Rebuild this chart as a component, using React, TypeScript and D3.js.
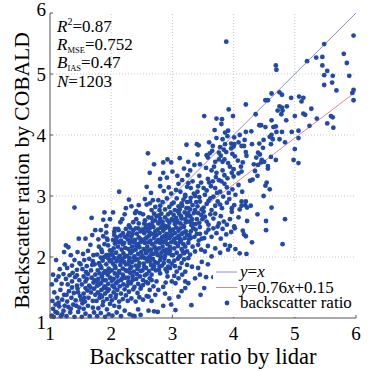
import React from "react";
import * as d3 from "d3";

// ---------- data ----------
const xTicks = [1, 2, 3, 4, 5, 6];
const yTicks = [1, 2, 3, 4, 5, 6];
const stats = { r2: "0.87", rmse: "0.752", bias: "0.47", n: "1203" };
const fitSlope = 0.76;
const fitIntercept = 0.15;

// sparse points, upper / right part
const upperPoints: [number, number][] = [
  [3.88,5.53],[5.96,5.63],[5.48,5.49],[5.80,5.33],[5.85,5.18],[5.20,5.21],[5.35,5.27],[5.45,5.28],[5.45,5.14],[4.69,5.14],[4.70,5.07],[5.53,5.05],[5.48,4.98],[5.62,4.97],[5.89,4.97],[5.61,4.86],[5.48,4.82],[5.68,4.73],[5.96,4.74],[5.94,4.69],[5.96,4.57],
  [4.62,4.68],[4.75,4.70],[4.79,4.66],[4.94,4.61],[5.07,4.63],[5.14,4.61],[5.11,4.55],[4.52,4.57],[4.56,4.57],[4.20,4.50],[4.75,4.47],[4.79,4.45],[4.87,4.47],[4.72,4.40],[4.80,4.40],[4.78,4.34],[5.14,4.35],[5.17,4.33],[5.27,4.43],
  [3.52,4.31],[3.72,4.27],[3.81,4.26],[3.80,4.18],[3.92,4.42],[3.99,4.31],[4.36,4.34],[4.62,4.24],[4.86,4.24],[5.00,4.31],[5.36,4.27],[5.53,4.19],[5.59,4.31],[5.62,4.29],[5.63,4.12],[4.42,4.16],[4.45,4.16],[4.69,4.14],[4.52,4.13],[4.65,4.13],[4.70,4.05],[4.79,4.05],[4.95,4.05],[5.06,4.07],[5.24,4.15],[4.20,4.05],[4.29,4.06],
  [4.62,4.00],[4.59,3.97],[5.06,3.95],[4.17,3.82],[4.30,3.85],[4.42,3.86],[4.49,3.92],[4.61,3.85],[4.64,3.93],[4.75,3.93],[4.84,3.88],[5.00,3.77],[4.20,3.72],[4.21,3.66],[4.48,3.79],[4.40,3.71],[4.43,3.68],[4.37,3.63],[4.61,3.64],[4.46,3.59],[4.50,3.56],[4.45,3.55],[4.40,3.51],[4.33,3.52],[4.56,3.49],[4.56,3.45],[4.69,3.59],[4.98,3.59],[5.06,3.54],
  [4.13,3.40],[4.35,3.41],[4.39,3.33],[4.31,3.27],[4.27,3.25],[4.54,3.22],[4.52,3.17],[4.59,3.11],[4.49,3.00],[4.20,2.91],[4.19,2.85],[4.13,2.84],[4.22,2.81],[4.28,2.84],[4.62,2.81],[4.39,2.70],[4.84,2.62],[4.22,2.59],[4.53,2.59],[4.53,2.44],[4.15,2.43],[4.17,2.37],[4.20,2.34],[4.30,2.24],[4.80,2.21],[4.21,2.05],
];

// middle band, lidar 2.5 – 4.2
const middlePoints: [number, number][] = [
  [2.61,1.12],[2.70,1.11],[2.52,1.30],[2.58,1.36],[2.61,1.35],[2.66,1.28],[2.72,1.38],[2.63,1.46],[2.52,1.54],[2.57,1.59],[2.60,1.57],[2.66,1.71],[2.69,1.52],[2.74,1.60],[2.55,1.70],[2.63,1.65],
  [2.51,1.78],[2.57,1.82],[2.62,1.77],[2.68,1.81],[2.73,1.78],[2.53,1.89],[2.59,1.93],[2.65,1.87],[2.71,1.92],[2.55,1.98],[2.62,1.99],[2.68,1.97],
  [2.51,2.02],[2.57,2.06],[2.63,2.01],[2.69,2.05],[2.74,2.08],[2.53,2.13],[2.59,2.17],[2.65,2.12],[2.71,2.16],[2.55,2.23],[2.61,2.24],[2.67,2.21],[2.73,2.24],[2.60,2.10],
  [2.52,2.28],[2.58,2.32],[2.64,2.27],[2.70,2.31],[2.74,2.36],[2.54,2.39],[2.60,2.43],[2.66,2.38],[2.72,2.42],[2.56,2.48],[2.63,2.47],[2.69,2.49],[2.62,2.35],[2.51,2.45],
  [2.61,2.65],[2.74,2.67],[2.63,2.53],[2.77,2.55],[2.55,2.60],[2.68,2.58],[2.52,2.70],[2.70,2.71],[2.58,2.52],[2.66,2.64],
  [2.66,2.77],[2.58,2.86],[2.63,2.88],[2.72,2.82],[2.55,2.95],[2.68,2.93],[2.58,3.15],[2.65,3.05],[2.63,3.38],[2.60,3.70],[2.70,3.52],
  [2.85,1.20],[2.98,1.22],[2.76,1.10],[2.88,1.40],[2.77,1.46],[2.95,1.32],[2.85,1.51],[2.99,1.60],[2.80,1.73],[2.92,1.68],[2.89,1.58],
  [2.96,1.82],[2.78,1.79],[2.83,1.86],[2.89,1.80],[2.94,1.93],[2.80,1.95],[2.87,1.97],[2.99,1.89],[2.91,1.76],[2.76,1.90],
  [2.76,2.03],[2.82,2.07],[2.88,2.02],[2.94,2.06],[2.99,2.03],[2.78,2.14],[2.84,2.17],[2.90,2.12],[2.96,2.16],[2.80,2.23],[2.86,2.24],[2.92,2.21],[2.98,2.24],[2.85,2.10],
  [2.77,2.28],[2.83,2.32],[2.89,2.27],[2.95,2.31],[2.99,2.36],[2.79,2.39],[2.85,2.43],[2.91,2.38],[2.97,2.42],[2.81,2.48],[2.88,2.47],[2.94,2.49],[2.87,2.35],[2.76,2.45],
  [2.88,2.65],[2.91,2.50],[2.80,2.63],[2.84,2.58],[2.95,2.56],[2.99,2.62],[2.82,2.71],[2.93,2.70],[2.78,2.68],[2.97,2.73],[2.86,2.52],
  [2.77,2.93],[2.80,2.84],[2.88,2.78],[2.99,2.87],[2.91,2.96],[2.84,2.90],[2.95,2.82],[2.79,2.77],[2.80,3.16],[2.94,3.14],[2.86,3.08],[2.98,3.04],[2.85,3.38],[2.91,3.30],[2.80,3.28],[2.85,3.55],[2.98,3.55],[2.92,3.60],
  [3.05,1.13],[3.21,1.49],[3.10,1.35],[3.15,1.44],[3.10,1.65],[3.21,1.60],[3.05,1.57],[3.16,1.71],[3.03,1.69],[3.07,1.76],[3.21,1.76],[3.15,1.90],[3.04,1.85],[3.12,1.82],[3.19,1.96],[3.09,1.97],[3.24,1.87],
  [3.01,2.03],[3.07,2.07],[3.13,2.02],[3.19,2.06],[3.24,2.09],[3.03,2.14],[3.09,2.18],[3.15,2.13],[3.21,2.17],[3.05,2.23],[3.12,2.24],[3.18,2.21],
  [3.02,2.28],[3.08,2.32],[3.14,2.27],[3.20,2.31],[3.24,2.36],[3.04,2.39],[3.10,2.43],[3.16,2.38],[3.22,2.42],[3.06,2.48],[3.13,2.47],[3.19,2.49],[3.11,2.35],[3.01,2.45],
  [3.02,2.69],[3.15,2.63],[3.04,2.54],[3.18,2.51],[3.08,2.59],[3.22,2.57],[3.11,2.71],[3.24,2.68],[3.06,2.64],[3.13,2.55],[3.20,2.73],[3.01,2.60],
  [3.04,2.77],[3.15,2.88],[3.07,2.96],[3.23,2.80],[3.10,2.83],[3.18,2.94],[3.02,2.89],[3.21,2.99],[3.12,2.78],[3.24,2.90],
  [3.10,3.20],[3.16,3.26],[3.21,3.02],[3.06,3.10],[3.13,3.07],[3.24,3.15],[3.00,3.40],[3.08,3.33],[3.19,3.45],[3.12,3.62],[3.23,3.84],
  [3.31,1.21],[3.46,1.38],[3.26,1.57],[3.37,1.65],[3.45,1.71],[3.32,1.84],[3.26,1.98],[3.42,1.82],[3.48,1.92],
  [3.37,2.09],[3.42,2.20],[3.29,2.04],[3.33,2.17],[3.47,2.12],[3.26,2.23],
  [3.27,2.29],[3.32,2.55],[3.36,2.33],[3.45,2.49],[3.30,2.42],[3.40,2.38],[3.48,2.30],[3.34,2.47],[3.43,2.27],[3.28,2.36],
  [3.29,2.67],[3.40,2.62],[3.27,2.58],[3.35,2.72],[3.44,2.56],[3.47,2.69],[3.31,2.52],[3.38,2.54],[3.49,2.62],[3.26,2.72],
  [3.37,2.77],[3.37,3.00],[3.29,2.91],[3.45,2.91],[3.26,2.80],[3.33,2.85],[3.41,2.83],[3.48,2.78],[3.30,2.97],[3.44,2.98],
  [3.30,3.13],[3.41,3.07],[3.42,3.16],[3.26,3.21],[3.35,3.04],[3.47,3.22],[3.33,3.24],[3.25,3.34],[3.36,3.51],[3.29,3.42],[3.44,3.33],[3.26,3.56],[3.45,3.52],[3.41,3.68],[3.40,3.85],[3.43,3.83],
  [3.52,1.49],[3.55,1.67],[3.67,1.67],[3.58,1.88],[3.64,2.01],[3.53,2.09],[3.58,2.18],[3.70,2.14],
  [3.52,2.31],[3.64,2.33],[3.72,2.39],[3.59,2.45],[3.55,2.40],[3.67,2.47],
  [3.53,2.66],[3.67,2.63],[3.59,2.53],[3.74,2.50],[3.56,2.58],[3.70,2.71],[3.62,2.70],[3.51,2.74],
  [3.51,2.81],[3.64,2.77],[3.59,2.92],[3.74,2.91],[3.67,2.99],[3.56,2.87],[3.70,2.84],[3.62,2.96],
  [3.53,3.02],[3.51,3.13],[3.56,3.09],[3.63,3.16],[3.70,3.13],[3.60,3.22],[3.73,3.05],[3.66,3.24],
  [3.72,3.38],[3.71,3.31],[3.58,3.28],[3.64,3.42],[3.55,3.46],[3.68,3.48],
  [3.56,3.67],[3.61,3.70],[3.58,3.63],[3.70,3.56],[3.65,3.74],[3.60,3.88],[3.72,3.95],[3.66,3.82],[3.69,4.08],
  [3.78,2.07],[3.91,2.12],[3.86,2.20],[3.94,2.18],[3.82,2.46],[3.79,2.30],[3.88,2.37],[3.96,2.41],
  [3.79,2.67],[3.94,2.62],[3.89,2.53],[3.97,2.74],[3.84,2.58],[3.76,2.55],
  [3.81,2.80],[3.89,2.89],[3.83,2.99],[3.78,2.86],[3.93,2.95],[3.97,2.80],
  [3.78,3.07],[3.89,3.14],[3.92,3.05],[3.98,3.11],[3.85,3.20],[3.80,3.24],
  [3.85,3.34],[3.76,3.26],[3.90,3.29],[3.94,3.48],[3.82,3.42],[3.97,3.38],
  [3.91,3.54],[3.76,3.71],[3.79,3.66],[3.76,3.60],[3.82,3.56],[3.85,3.60],[3.98,3.69],[3.88,3.72],
  [3.82,3.93],[3.86,3.85],[3.96,3.86],[3.96,3.78],[3.78,3.80],[3.90,3.98],[3.84,3.76],[3.86,4.04],[3.91,4.07],
  [4.03,2.13],[4.10,2.06],[4.01,2.50],[4.08,2.65],[4.02,2.47],[4.10,2.78],[4.01,2.85],[4.13,2.91],
  [4.03,3.02],[4.14,3.07],[4.08,3.18],[4.00,3.32],[4.08,3.37],[4.00,3.44],[4.12,3.48],
  [4.02,3.65],[4.07,3.58],[4.15,3.55],[4.01,3.85],[4.13,3.82],[4.10,4.00],[4.01,3.96],[4.08,3.88],[4.00,3.81],[4.18,3.92],
];

// dense lower-left cloud, lidar 1.0 – 2.5
const densePoints: [number, number][] = [
  [1.03,1.04],[1.06,1.02],[1.12,1.08],[1.18,1.03],[1.05,1.15],[1.15,1.19],[1.22,1.12],[1.09,1.22],[1.20,1.06],
  [1.04,1.28],[1.12,1.33],[1.20,1.30],[1.07,1.42],[1.17,1.46],[1.23,1.38],
  [1.05,1.71],[1.10,1.62],[1.19,1.56],[1.14,1.68],[1.22,1.72],[1.03,1.55],[1.16,1.80],[1.24,1.88],[1.10,1.95],[1.23,2.08],[1.26,2.19],
  [1.27,1.03],[1.33,1.09],[1.40,1.02],[1.46,1.10],[1.30,1.18],[1.38,1.22],[1.48,1.17],
  [1.28,1.27],[1.35,1.33],[1.42,1.29],[1.49,1.36],[1.31,1.44],[1.39,1.41],[1.45,1.48],[1.27,1.38],
  [1.29,1.55],[1.36,1.60],[1.44,1.53],[1.32,1.70],[1.41,1.67],[1.48,1.62],[1.37,1.74],
  [1.28,1.82],[1.36,1.86],[1.44,1.79],[1.40,1.95],[1.48,1.90],[1.34,2.03],[1.45,2.08],[1.30,2.16],[1.47,2.30],[1.40,2.81],
  [1.52,1.02],[1.58,1.07],[1.65,1.03],[1.72,1.09],[1.55,1.15],[1.62,1.20],[1.70,1.17],[1.53,1.24],
  [1.51,1.30],[1.57,1.27],[1.63,1.33],[1.70,1.28],[1.74,1.38],[1.55,1.40],[1.61,1.45],[1.67,1.42],[1.72,1.48],[1.58,1.49],
  [1.52,1.55],[1.58,1.60],[1.64,1.53],[1.71,1.58],[1.55,1.68],[1.62,1.72],[1.68,1.66],[1.74,1.71],[1.60,1.64],
  [1.53,1.80],[1.60,1.85],[1.67,1.78],[1.73,1.88],[1.56,1.95],[1.64,1.97],[1.70,1.93],
  [1.54,2.05],[1.62,2.10],[1.71,2.03],[1.66,2.20],[1.58,2.30],[1.69,2.36],[1.74,2.44],[1.68,2.64],
  [1.77,1.03],[1.83,1.08],[1.90,1.02],[1.96,1.06],[1.79,1.16],[1.86,1.21],[1.93,1.14],[1.98,1.23],
  [1.76,1.28],[1.81,1.33],[1.87,1.27],[1.93,1.31],[1.99,1.36],[1.78,1.42],[1.84,1.46],[1.90,1.40],[1.96,1.47],[1.82,1.38],[1.88,1.49],[1.94,1.44],
  [1.77,1.53],[1.83,1.57],[1.89,1.52],[1.95,1.56],[1.79,1.64],[1.85,1.68],[1.91,1.62],[1.98,1.66],[1.81,1.73],[1.88,1.74],[1.94,1.71],[1.76,1.60],
  [1.78,1.78],[1.84,1.82],[1.90,1.77],[1.96,1.81],[1.80,1.90],[1.86,1.94],[1.92,1.88],[1.98,1.93],[1.83,1.99],[1.95,1.98],
  [1.77,2.04],[1.85,2.08],[1.92,2.03],[1.98,2.11],[1.80,2.17],[1.89,2.21],[1.95,2.19],
  [1.79,2.29],[1.87,2.34],[1.94,2.28],[1.83,2.44],[1.92,2.40],[1.87,2.61],[1.98,2.62],[1.89,2.73],[1.92,2.51],
  [2.02,1.04],[2.09,1.09],[2.16,1.03],[2.22,1.12],[2.05,1.20],[2.13,1.18],
  [2.01,1.29],[2.07,1.33],[2.13,1.27],[2.19,1.31],[2.24,1.37],[2.04,1.42],[2.10,1.46],[2.16,1.40],[2.22,1.47],[2.08,1.38],
  [2.02,1.53],[2.08,1.57],[2.14,1.52],[2.20,1.55],[2.04,1.64],[2.10,1.68],[2.16,1.62],[2.23,1.66],[2.06,1.73],[2.13,1.74],[2.19,1.71],[2.01,1.61],
  [2.01,1.78],[2.07,1.82],[2.13,1.77],[2.19,1.81],[2.24,1.78],[2.03,1.89],[2.09,1.93],[2.15,1.87],[2.21,1.92],[2.05,1.98],[2.12,1.99],[2.18,1.97],[2.24,1.88],[2.00,1.95],
  [2.02,2.03],[2.08,2.07],[2.14,2.02],[2.20,2.06],[2.04,2.14],[2.11,2.17],[2.17,2.12],[2.23,2.15],[2.06,2.22],[2.13,2.24],[2.19,2.21],[2.01,2.10],
  [2.03,2.28],[2.09,2.32],[2.16,2.27],[2.22,2.33],[2.05,2.41],[2.12,2.44],[2.19,2.39],[2.24,2.46],
  [2.03,2.73],[2.06,2.46],[2.11,2.46],[2.15,2.57],[2.22,2.70],[2.18,2.62],[2.24,2.80],[2.13,3.07],
  [2.30,1.06],[2.38,1.03],[2.44,1.14],[2.35,1.04],[2.48,1.05],
  [2.27,1.28],[2.33,1.32],[2.40,1.27],[2.46,1.34],[2.29,1.43],[2.36,1.47],[2.43,1.41],[2.48,1.48],
  [2.26,1.53],[2.32,1.57],[2.38,1.51],[2.44,1.56],[2.49,1.52],[2.28,1.66],[2.35,1.69],[2.41,1.64],[2.47,1.68],[2.31,1.74],
  [2.26,1.77],[2.31,1.81],[2.37,1.76],[2.43,1.80],[2.48,1.77],[2.28,1.88],[2.34,1.92],[2.40,1.86],[2.46,1.90],[2.30,1.98],[2.37,1.99],[2.43,1.96],[2.49,1.99],[2.33,1.84],
  [2.26,2.02],[2.32,2.06],[2.38,2.01],[2.44,2.05],[2.49,2.08],[2.28,2.13],[2.34,2.17],[2.40,2.12],[2.46,2.16],[2.30,2.23],[2.37,2.24],[2.43,2.21],[2.48,2.24],[2.35,2.10],
  [2.27,2.29],[2.33,2.33],[2.39,2.28],[2.45,2.32],[2.29,2.40],[2.36,2.44],[2.42,2.38],[2.48,2.42],[2.31,2.48],[2.44,2.47],
  [2.29,2.52],[2.36,2.57],[2.41,2.62],[2.45,2.55],[2.39,2.72],[2.47,2.72],[2.29,2.94],[2.45,2.85],[2.41,2.75],[2.33,2.83],
];

// extra points in the most crowded core of the cloud
const corePoints: [number, number][] = [
  [1.09,1.10],[1.14,1.25],[1.24,1.20],[1.34,1.15],[1.43,1.20],[1.36,1.50],[1.46,1.42],[1.26,1.64],[1.44,1.70],[1.56,1.33],[1.66,1.50],[1.73,1.62],[1.59,1.75],[1.69,1.87],[1.50,1.88],
  [1.85,1.35],[1.91,1.50],[1.80,1.55],[1.87,1.62],[1.96,1.75],[1.82,1.86],[1.89,2.00],[1.97,2.04],[1.84,2.12],[1.93,2.30],
  [2.05,1.50],[2.11,1.60],[2.18,1.65],[2.06,1.85],[2.16,1.93],[2.22,2.00],[2.09,2.26],[2.15,2.35],[2.21,2.23],[2.05,2.36],
  [2.28,1.59],[2.35,1.62],[2.42,1.72],[2.29,1.93],[2.39,1.95],[2.45,1.85],[2.31,2.09],[2.41,2.18],[2.47,2.30],[2.33,2.26],[2.40,2.47],[2.27,2.36],[2.35,2.38],
  [2.52,1.62],[2.58,1.72],[2.66,1.62],[2.54,1.84],[2.63,1.93],[2.70,1.85],[2.57,2.10],[2.66,2.06],[2.73,2.12],[2.56,2.30],[2.63,2.40],[2.71,2.37],[2.58,2.44],[2.67,2.52],[2.54,2.55],[2.72,2.60],
  [2.79,1.84],[2.86,1.90],[2.93,1.84],[2.81,2.00],[2.89,2.08],[2.96,2.10],[2.82,2.28],[2.90,2.32],[2.97,2.35],[2.84,2.52],[2.92,2.60],[2.79,2.57],[2.96,2.45],
  [3.03,1.94],[3.11,2.00],[3.17,2.09],[3.04,2.30],[3.12,2.30],[3.18,2.40],[3.06,2.56],[3.14,2.67],[3.21,2.62],[3.09,2.75],[3.16,2.84],
  [3.30,2.31],[3.38,2.45],[3.45,2.38],[3.32,2.62],[3.42,2.72],[3.29,2.78],[3.39,2.90],
];

const allPoints = [...densePoints, ...corePoints, ...middlePoints, ...upperPoints];

// ---------- layout ----------
const W = 370, H = 371;
const left = 50, right = 356, top = 13, bottom = 318;
const serif = "'Liberation Serif', 'Times New Roman', serif";
const dotColor = "#2349a6";
const blueLine = "#7b7fd6";
const redLine = "#e07a7a";

export default function App() {
  const x = d3.scaleLinear().domain([1, 6]).range([left, right]);
  const y = d3.scaleLinear().domain([1, 6]).range([bottom, top]);
  const fitStartX = (1 - fitIntercept) / fitSlope;
  const diag = d3.line<number>().x((v) => x(v)).y((v) => y(v));
  const fit = d3.line<number>().x((v) => x(v)).y((v) => y(fitSlope * v + fitIntercept));
  const legendX = 213, legendY = 262;
  const yLabelShift = (t: number) => (t === 6 ? -3.5 : t === 1 ? 4 : 0);
  return (
    <svg width={W} height={H} style={{ position: "absolute", left: 0, top: 0, background: "#fff" }} fontFamily={serif}>
      {/* grid */}
      {xTicks.slice(1, -1).map((t) => (
        <line key={"gx" + t} x1={x(t)} x2={x(t)} y1={bottom} y2={top} stroke="#c8c8c8" strokeWidth={1} strokeDasharray="1,2" />
      ))}
      {yTicks.slice(1, -1).map((t) => (
        <line key={"gy" + t} x1={left} x2={right} y1={y(t)} y2={y(t)} stroke="#c8c8c8" strokeWidth={1} strokeDasharray="1,2" />
      ))}
      {/* reference lines */}
      <path d={diag([1, 6]) || ""} stroke={blueLine} strokeWidth={0.9} fill="none" />
      <path d={fit([fitStartX, 6]) || ""} stroke={redLine} strokeWidth={0.9} fill="none" />
      {/* points */}
      {allPoints.map(([a, b], i) => (
        <circle key={i} cx={x(a)} cy={y(b)} r={2.4} fill={dotColor} />
      ))}
      {/* axes */}
      <line x1={left} x2={left} y1={top} y2={bottom} stroke="#555" strokeWidth={1} />
      <line x1={left} x2={right} y1={bottom} y2={bottom} stroke="#555" strokeWidth={1} />
      {xTicks.map((t) => (
        <g key={"xt" + t}>
          <line x1={x(t)} x2={x(t)} y1={bottom} y2={bottom - 3} stroke="#555" />
          <text x={x(t)} y={340} textAnchor="middle" fontSize={19}>{t}</text>
        </g>
      ))}
      {yTicks.map((t) => (
        <g key={"yt" + t}>
          <line x1={left} x2={left + 3} y1={y(t)} y2={y(t)} stroke="#555" />
          <text x={left - 4} y={y(t) + 6.5 + yLabelShift(t)} textAnchor="end" fontSize={19}>{t}</text>
        </g>
      ))}
      <text x={(left + right) / 2} y={364} textAnchor="middle" fontSize={22.5}>Backscatter ratio by lidar</text>
      <text transform={`translate(29, ${(top + bottom) / 2 + 5}) rotate(-90)`} textAnchor="middle" fontSize={21.5}>Backscatter ration by COBALD</text>
      {/* stats */}
      <g fontSize={17}>
        <text x={57} y={32}><tspan fontStyle="italic">R</tspan><tspan fontSize={10} dy={-7}>2</tspan><tspan dy={7}>={stats.r2}</tspan></text>
        <text x={57} y={50}><tspan fontStyle="italic">R</tspan><tspan fontSize={8.5} dy={3}>MSE</tspan><tspan dy={-3}>={stats.rmse}</tspan></text>
        <text x={57} y={68}><tspan fontStyle="italic">B</tspan><tspan fontSize={8.5} dy={3}>IAS</tspan><tspan dy={-3}>={stats.bias}</tspan></text>
        <text x={57} y={87}><tspan fontStyle="italic">N</tspan>={stats.n}</text>
      </g>
      {/* legend */}
      <rect x={legendX} y={legendY} width={right - legendX - 1} height={bottom - legendY - 1} fill="#fff" />
      <g fontSize={17}>
        <line x1={216} x2={237} y1={272} y2={272} stroke={blueLine} strokeWidth={0.9} />
        <text x={240} y={277}><tspan fontStyle="italic">y</tspan>=<tspan fontStyle="italic">x</tspan></text>
        <line x1={216} x2={237} y1={287.5} y2={287.5} stroke={redLine} strokeWidth={0.9} />
        <text x={240} y={292.5}><tspan fontStyle="italic">y</tspan>=0.76<tspan fontStyle="italic">x</tspan>+0.15</text>
        <circle cx={227} cy={303} r={2.4} fill={dotColor} />
        <text x={240} y={308}>backscatter ratio</text>
      </g>
    </svg>
  );
}
